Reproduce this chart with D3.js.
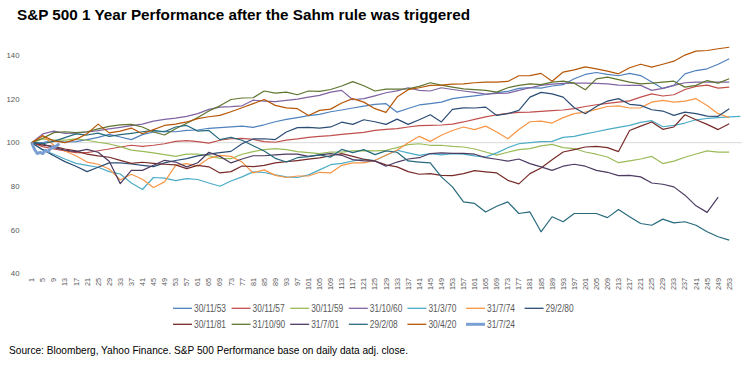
<!DOCTYPE html>
<html>
<head>
<meta charset="utf-8">
<script src="https://cdn.jsdelivr.net/npm/d3@7"></script>
<style>
  body { margin: 0; background: #fff; }
  svg { display: block; }
</style>
</head>
<body>
<script>
// values sampled every 4 trading days (day 1, 5, 9, ... 253), index 100 = trigger date
const s53 = [100,100,101,100.3,100.5,101.4,102.4,103.8,102.6,101.4,103.7,104.9,105.2,105,105.6,105.8,106.6,106.9,107.2,107.6,107,108.2,109.6,110.7,111.5,112.4,113,114.2,115,115.9,116.8,117.6,117.9,114,115.7,117.3,117.9,118.6,120.2,120.9,121.5,122.1,123,123.5,124.9,125.3,125,126,126.6,129.3,131.3,132.2,131.3,130.7,131.8,130.8,127.8,124.9,126.3,131.6,133.1,133.9,136,138.5];
const s57 = [100,98.2,97.1,96.2,95.4,95.4,96.3,97.1,98,98.8,98.3,98.8,99.5,100.6,100.9,100.5,99.8,101.1,101.8,102,101.5,100.5,100.2,101.2,101.7,102.4,102.9,103.2,103.8,104.3,104.7,105.6,106.1,106.4,107.2,107.8,107.9,108.1,108.5,109.5,110.7,111.8,112.8,113.4,113.9,114,114.4,114.7,115,115.6,116.6,117.4,118,118.6,119.2,120.9,122.4,121.4,122,124.4,125.8,126.4,125,125.5];
const s59 = [100,101.7,101.2,101.2,101.7,101.1,100.2,99.4,98.2,96.6,96,95.3,94.5,93.7,94.7,94.8,94,92.8,92.7,94.7,95.9,96.8,97.3,96.8,95.9,95.4,95,95.7,95.7,96.2,96.3,96.2,96.5,97.7,99.1,99.5,98.8,98.8,98.3,98,97.1,95.7,94.3,95.6,96.8,97.3,98.5,99.2,97.7,97.3,95.7,94.7,93.4,90.8,91.6,92.5,93.7,90.4,91.5,93.3,94.8,96.2,95.7,95.7];
const s60 = [100,104,105.3,104.3,104.4,104.9,105.5,106.3,107,107.8,108.5,109.9,110.7,111.3,112.1,113.3,115.3,116.3,116.5,116.9,119.5,119.1,118.8,119.4,120,120.9,121.7,123.2,124,119.7,120.2,121.5,122.9,123.8,125.2,124,123.7,125.2,124.4,123.7,123.1,122.3,122.6,122.7,124,125.2,126.3,126.9,127.2,127.3,127.3,127.2,127,126.4,126.3,126.3,124,124.9,126.3,127.5,127.8,127.8,127.8,127.8];
const s70 = [100,96.6,94.7,92.5,90.5,89.6,88.7,86.7,85.6,81.5,78.5,84,83.7,82.6,83.5,83.1,81.5,80,82.4,84.3,86.6,86.3,85.2,84.3,84,85.2,87.5,89.9,90.5,91.6,92.4,91.8,94.2,96.5,95.3,94.2,95,94.4,95,94.7,93.9,93.4,95.3,97.7,99.5,100,100.5,100.6,102.4,102.9,104,105,106.1,107,107.9,109.3,110.1,107.3,107.9,109,110.5,111.1,111.5,111.8,112.1];
const s74 = [100,103.2,98.8,96.2,94,91.1,90.1,87.9,82.9,85.5,83.2,79.4,82,89.6,90.4,89.3,92.8,94.2,93.7,91.1,86.1,87.5,85,84,84.7,84.7,86.4,86.1,89.6,90.7,90.7,91.9,94.2,96.5,100,102.9,100.6,103.4,105.6,107.2,106,107.6,104.9,101.8,106,109.6,109.9,109,111.5,113.3,114,115.3,116.6,116.9,115.9,116,118.6,119.4,118.6,119.1,120.2,117.1,113.3,111.5];
const s80 = [100,96.8,94,91.3,89.2,86.7,88.7,90.7,90.7,90.2,89.6,89,90.7,91.8,92.7,93.9,94.7,95.4,96,99.5,101.7,101.8,101.4,104.9,106.9,107,106.7,107.2,109.4,108.4,110.5,109.6,108.4,110.8,108.4,110.5,112.8,109.5,115.3,116,115.9,116.3,112.5,113.3,114.8,120.9,123.1,122.4,120.9,116,113.3,116.6,119.1,120.2,117.6,117.1,115.1,114.5,112.5,114,113.3,112.2,112.1,115.6];
const s81 = [100,98.9,98.3,97.1,96.2,94.7,93.9,93.3,91.9,90.5,91,90.5,90.1,89.8,88.1,89.6,88.9,86.1,86.7,89.3,89,89.6,90.7,91.3,91.8,92.4,93,94,95,93.7,92.4,91.5,89.8,88.9,86.7,85.5,85.8,85,84.9,85.8,87.2,86.6,86.1,82.7,81.1,85.8,88.4,92.2,95.7,96.8,98,98.3,97.7,95.9,105.6,107.6,109.5,106.1,107.2,112.8,110.5,108.4,106,108.7];
const s90 = [100,102,104.6,105,104.6,105,106.3,107.5,108.2,108.4,107.2,104.9,103.5,106.4,108.9,111.5,114.5,116.9,119.8,120.5,120.6,123.7,122.7,123.2,122,123.7,123.5,124.4,126,128,126.1,123.7,124.6,124.6,124.7,125.8,127.5,126.4,125.5,124.7,124.3,124,123.2,125.2,126.3,127,126.6,127.8,128.2,127.3,124.3,129.3,130.1,128.9,127.8,127,127.3,127.8,128.2,125.5,126.3,128.5,127.3,129.3];
const s01 = [100,99.4,97.7,96.6,95.9,96.9,95.6,91.5,81.2,87.3,87.3,89.6,91.9,91.1,88.9,90.8,95.6,93.7,90.7,92.5,94,94,94.4,94.7,94.7,93.7,94.4,95,94.2,92.2,91.6,91.6,89.2,91.1,92.5,93.1,95,95.3,95.1,95.1,94.7,93.1,92.4,91.5,92.5,90.4,88.9,87.3,89.2,90.1,89.2,87.3,86.4,84.9,85,84.3,81.5,80.9,79.7,75.9,71,68,75];
const s08 = [100,99.5,100.6,102.3,104,103.5,104.4,102.9,103.7,104.3,105,105.6,105,107.2,107.9,105.3,105.6,101.4,102.4,101.1,98.6,96.2,92.8,91.1,93.1,93.6,94.4,93.4,96.9,95.4,96.8,94.5,96.2,95.6,91.6,91.1,90.7,84.3,79.7,72.8,72.1,68.2,70.8,72.8,67.5,68.2,59.1,66,63.7,67.5,67.5,67.5,65.6,69.3,66,62.9,62.1,64.9,63.2,63.7,62.1,59.1,56.8,55.3];
const s20 = [100,103.2,100.8,100,101.5,104.1,108.5,104.5,105.3,106.7,104.1,106,107.9,108.5,109.5,111,111.9,112.5,114.2,116,117.9,119.8,117.1,116,115.6,112.5,114.8,115.4,118.2,120.2,118.6,115.6,113.9,120.9,124.3,125.2,126.3,126.4,126.9,127,127.5,127.8,127.8,128.1,130.7,130.8,131.8,128.2,132.4,133.4,134.8,133.9,132.8,131.6,134.4,136,134.7,136,137.4,140.2,142,142.3,143.1,143.8];
// 2024 trigger: only the first trading days, one value per day
const s24 = [100,97,95,95.5,95,96.5,96,97.5,98,98.5,99.5];

const seriesNames = ["30/11/53","30/11/57","30/11/59","31/10/60","31/3/70","31/7/74","29/2/80",
                     "30/11/81","31/10/90","31/7/01","29/2/08","30/4/20","31/7/24"];
const seriesValues = [s53, s57, s59, s60, s70, s74, s80, s81, s90, s01, s08, s20, s24];
const seriesStep = [4,4,4,4,4,4,4,4,4,4,4,4,1];
const seriesColors = ["#4F81BD","#C0504D","#9BBB59","#8064A2","#4BACC6","#F79646","#2C4D75",
                      "#772C2A","#5F7530","#4D3B62","#276A7C","#B65708","#7A9FD3"];

const yTicks = [40, 60, 80, 100, 120, 140];
const xTicks = d3.range(1, 254, 4);

const width = 749, height = 372;
const svg = d3.select("body").append("svg")
    .attr("xmlns", "http://www.w3.org/2000/svg")
    .attr("width", width)
    .attr("height", height);

const x = d3.scaleLinear().domain([0.5, 257.5]).range([30.3, 741.7]);
const y = d3.scaleLinear().domain([40, 140]).range([273.4, 55.5]);

svg.append("text")
    .attr("x", 17).attr("y", 19.5)
    .attr("font-family", "Liberation Sans, Arial, sans-serif")
    .attr("font-weight", "bold")
    .attr("font-size", 14)
    .attr("textLength", 453)
    .attr("lengthAdjust", "spacingAndGlyphs")
    .attr("fill", "#000")
    .text("S&P 500 1 Year Performance after the Sahm rule was triggered");

// y labels
svg.append("g").selectAll("text")
    .data(yTicks)
    .enter().append("text")
        .attr("x", 19.5)
        .attr("y", d => y(d))
        .attr("dy", "0.35em")
        .attr("text-anchor", "end")
        .attr("font-family", "Liberation Sans, Arial, sans-serif")
        .attr("font-size", 7.8)
        .attr("fill", "#595959")
        .text(d => d);

// horizontal axis crosses at 100
svg.append("line")
    .attr("x1", x.range()[0]).attr("x2", x.range()[1])
    .attr("y1", y(100)).attr("y2", y(100))
    .attr("stroke", "#D9D9D9").attr("stroke-width", 1);

// x labels, rotated
svg.append("g").selectAll("text")
    .data(xTicks)
    .enter().append("text")
        .attr("transform", d => `translate(${x(d)},278) rotate(-90)`)
        .attr("dy", "0.35em")
        .attr("text-anchor", "end")
        .attr("font-family", "Liberation Sans, Arial, sans-serif")
        .attr("font-size", 7.2)
        .attr("fill", "#595959")
        .text(d => d);

const line = d3.line()
    .x(d => x(d.day))
    .y(d => y(d.v));

svg.append("g").selectAll("path")
    .data(seriesValues.map((vals, k) => ({
        k: k,
        pts: vals.map((v, i) => ({ day: 1 + i * seriesStep[k], v: v }))
    })))
    .enter().append("path")
        .attr("d", d => line(d.pts))
        .attr("fill", "none")
        .attr("stroke", d => seriesColors[d.k])
        .attr("stroke-width", d => d.k === 12 ? 3 : 1.2)
        .attr("stroke-linejoin", "round");

// legend, two rows
const legend = svg.append("g").selectAll("g")
    .data(seriesNames)
    .enter().append("g")
        .attr("transform", (d, i) => {
            const row = i < 7 ? 0 : 1;
            const col = i < 7 ? i : i - 7;
            return `translate(${173 + col * 58.6},${row ? 324.3 : 308.3})`;
        });
legend.append("line")
    .attr("x1", 0).attr("x2", 19)
    .attr("stroke", (d, i) => seriesColors[i])
    .attr("stroke-width", (d, i) => i === 12 ? 3 : 1.3);
// narrow look: squeeze the labels horizontally
legend.append("text")
    .attr("transform", "translate(21,0) scale(0.84,1)")
    .attr("dy", "0.35em")
    .attr("font-family", "Liberation Sans, Arial, sans-serif")
    .attr("font-size", 10)
    .attr("fill", "#595959")
    .text(d => d);

svg.append("text")
    .attr("x", 9).attr("y", 350)
    .attr("dy", "0.35em")
    .attr("font-family", "Liberation Sans, Arial, sans-serif")
    .attr("font-size", 11)
    .attr("textLength", 399)
    .attr("lengthAdjust", "spacingAndGlyphs")
    .attr("fill", "#000")
    .text("Source: Bloomberg, Yahoo Finance. S&P 500 Performance base on daily data adj. close.");
</script>
</body>
</html>
